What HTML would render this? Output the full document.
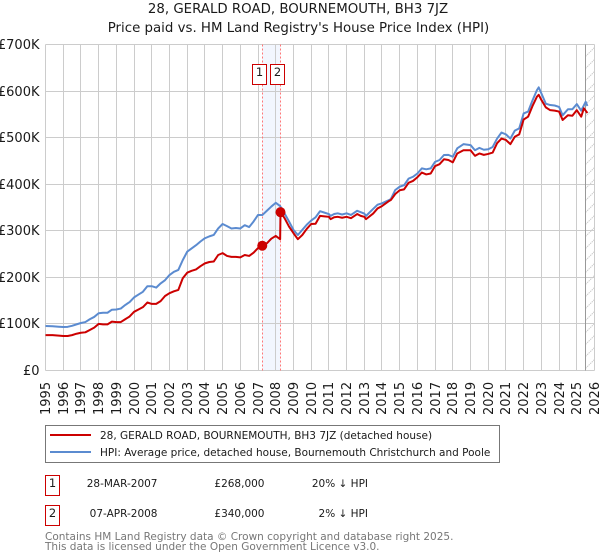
<!DOCTYPE html>
<html lang="en">
<head>
<meta charset="utf-8">
<title>28, GERALD ROAD, BOURNEMOUTH, BH3 7JZ</title>
<style>
html,body{margin:0;padding:0;background:#fff;width:600px;height:560px;overflow:hidden}
svg{display:block;font-family:"DejaVu Sans",sans-serif}
</style>
</head>
<body>
<svg id="chart" xmlns="http://www.w3.org/2000/svg" width="600" height="560" viewBox="0 0 600 560">
<defs>
<pattern id="hatch" width="12" height="12" patternUnits="userSpaceOnUse" patternTransform="translate(585.5 44.5)">
<line x1="0" y1="12" x2="12" y2="0" stroke="#cccccc" stroke-width="1" stroke-dasharray="1.5 0.7"/>
</pattern>
</defs>
<text x="298" y="13" text-anchor="middle" font-size="13.35" fill="#1a1a1a">28, GERALD ROAD, BOURNEMOUTH, BH3 7JZ</text>
<text x="298.5" y="32" text-anchor="middle" font-size="13.35" fill="#1a1a1a">Price paid vs. HM Land Registry's House Price Index (HPI)</text>
<g id="plot"></g>
<g>
<rect x="45.5" y="425.5" width="454" height="37" fill="#fff" stroke="#777"/>
<line x1="50" y1="435" x2="91" y2="435" stroke="#cc0000" stroke-width="2"/>
<text x="100" y="439" font-size="10.5" fill="#1a1a1a">28, GERALD ROAD, BOURNEMOUTH, BH3 7JZ (detached house)</text>
<line x1="50" y1="452" x2="91" y2="452" stroke="#5b8bd0" stroke-width="2"/>
<text x="100" y="456" font-size="10.5" fill="#1a1a1a">HPI: Average price, detached house, Bournemouth Christchurch and Poole</text>
</g>
<g font-size="10.5" fill="#1a1a1a">
<rect x="45.5" y="475.5" width="14" height="20" fill="#fff" stroke="#cc0000"/>
<text x="52.5" y="487" text-anchor="middle" font-size="11.5">1</text>
<text x="157.5" y="487" text-anchor="end">28-MAR-2007</text>
<text x="264.5" y="487" text-anchor="end">£268,000</text>
<text x="368" y="487" text-anchor="end">20% ↓ HPI</text>
<rect x="45.5" y="505.5" width="14" height="20" fill="#fff" stroke="#cc0000"/>
<text x="52.5" y="517" text-anchor="middle" font-size="11.5">2</text>
<text x="157.5" y="517" text-anchor="end">07-APR-2008</text>
<text x="264.5" y="517" text-anchor="end">£340,000</text>
<text x="368" y="517" text-anchor="end">2% ↓ HPI</text>
</g>
<text x="45" y="540" font-size="10.5" fill="#777">Contains HM Land Registry data © Crown copyright and database right 2025.</text>
<text x="45" y="550" font-size="10.5" fill="#777">This data is licensed under the Open Government Licence v3.0.</text>
</svg>
<script>
const yTickValues = [0, 100, 200, 300, 400, 500, 600, 700];
const yTickLabels = ['£0', '£100K', '£200K', '£300K', '£400K', '£500K', '£600K', '£700K'];
const xTickYears = [1995, 1996, 1997, 1998, 1999, 2000, 2001, 2002, 2003, 2004, 2005, 2006, 2007, 2008, 2009, 2010, 2011, 2012, 2013, 2014, 2015, 2016, 2017, 2018, 2019, 2020, 2021, 2022, 2023, 2024, 2025, 2026];
const hpiDates = [1995, 1995.4, 1995.75, 1996, 1996.25, 1996.5, 1996.75, 1997, 1997.25, 1997.5, 1997.75, 1998, 1998.25, 1998.5, 1998.75, 1999, 1999.25, 1999.5, 1999.75, 2000, 2000.25, 2000.5, 2000.75, 2001, 2001.25, 2001.5, 2001.75, 2002, 2002.25, 2002.5, 2002.75, 2003, 2003.25, 2003.5, 2003.75, 2004, 2004.25, 2004.5, 2004.75, 2005, 2005.25, 2005.5, 2005.75, 2006, 2006.25, 2006.5, 2006.75, 2007, 2007.25, 2007.5, 2007.75, 2008, 2008.25, 2008.5, 2008.75, 2009, 2009.25, 2009.5, 2009.75, 2010, 2010.25, 2010.5, 2010.75, 2011, 2011.1, 2011.3, 2011.5, 2011.75, 2012, 2012.25, 2012.6, 2012.8, 2013, 2013.1, 2013.5, 2013.75, 2014, 2014.4, 2014.5, 2014.75, 2015, 2015.25, 2015.5, 2015.75, 2016, 2016.25, 2016.5, 2016.75, 2017, 2017.25, 2017.5, 2017.75, 2018, 2018.25, 2018.6, 2019, 2019.25, 2019.5, 2019.75, 2020, 2020.25, 2020.5, 2020.75, 2021, 2021.25, 2021.5, 2021.75, 2022, 2022.25, 2022.5, 2022.75, 2022.85, 2023, 2023.25, 2023.5, 2023.75, 2024, 2024.2, 2024.5, 2024.75, 2025, 2025.25, 2025.5, 2025.6];
const hpiValues = [95.5, 95, 94, 93.4, 93.8, 96, 99, 102, 104, 110, 115, 123, 124, 124, 130.5, 131, 133, 140.6, 147, 157, 163, 169, 181, 181, 178, 187, 194, 205, 212, 216, 237, 255, 262, 269, 277, 284, 288, 291, 305, 314.6, 310, 305, 306, 305, 312, 308, 320, 334, 334, 343, 352, 360, 353, 337, 320, 302, 291, 302, 313, 322, 329, 342, 339, 336, 332, 336, 337.5, 335, 337.5, 334, 343, 340, 337, 332, 347, 356, 359, 366, 368, 387.6, 394.7, 398, 412, 416, 423, 434, 432, 434, 448, 452, 462.7, 463, 459, 477, 486, 484, 473, 478, 474, 475, 480, 498, 511, 507, 498, 515, 520, 552, 556, 580, 602, 608, 595, 573, 570, 569, 566, 548, 561, 561, 572, 558, 577, 568];
const paidDates = [1995, 1995.4, 1995.75, 1996, 1996.25, 1996.5, 1996.75, 1997, 1997.25, 1997.5, 1997.75, 1998, 1998.25, 1998.5, 1998.75, 1999, 1999.25, 1999.5, 1999.75, 2000, 2000.25, 2000.5, 2000.75, 2001, 2001.25, 2001.5, 2001.75, 2002, 2002.25, 2002.5, 2002.75, 2003, 2003.25, 2003.5, 2003.75, 2004, 2004.25, 2004.5, 2004.75, 2005, 2005.25, 2005.5, 2005.75, 2006, 2006.25, 2006.5, 2006.75, 2007, 2007.24, 2007.5, 2007.75, 2008, 2008.25, 2008.27, 2008.5, 2008.75, 2009, 2009.25, 2009.5, 2009.75, 2010, 2010.25, 2010.5, 2010.75, 2011, 2011.1, 2011.3, 2011.5, 2011.75, 2012, 2012.25, 2012.6, 2012.8, 2013, 2013.1, 2013.5, 2013.75, 2014, 2014.4, 2014.5, 2014.75, 2015, 2015.25, 2015.5, 2015.75, 2016, 2016.25, 2016.5, 2016.75, 2017, 2017.25, 2017.5, 2017.75, 2018, 2018.25, 2018.6, 2019, 2019.25, 2019.5, 2019.75, 2020, 2020.25, 2020.5, 2020.75, 2021, 2021.25, 2021.5, 2021.75, 2022, 2022.25, 2022.5, 2022.75, 2022.85, 2023, 2023.25, 2023.5, 2023.75, 2024, 2024.2, 2024.5, 2024.75, 2025, 2025.25, 2025.4, 2025.6];
const paidValues = [76, 76, 75, 74, 74, 76, 79, 81, 82, 87, 92, 100, 99, 99, 105, 104, 104, 110, 116, 126, 131, 136, 146, 143, 143, 149, 160, 166, 170, 173, 198, 210, 214, 217, 224, 230, 233, 234, 248, 252, 246, 244, 244, 243, 248, 246, 253, 263, 268, 273, 283, 289, 282, 340, 327, 309, 295, 282, 291, 304, 314.6, 315, 332, 331, 330, 325, 329, 330, 328, 330, 327, 336, 332, 330, 325, 337, 348, 353, 364, 366, 379, 387, 389, 403, 407, 415, 425, 421, 423, 439, 443, 453.5, 452, 447, 466, 473, 473, 461, 466, 463, 465, 468, 488, 498, 495, 486, 502, 507, 539, 545, 568, 588, 592, 581, 565, 559, 558, 556, 538, 548, 547, 559, 545, 563, 553];
const saleDates = [2007.24, 2008.27];
const saleValues = [268, 340];
const saleNumbers = ['1', '2'];
const hpiEndDate = 2025.5;

const NS = 'http://www.w3.org/2000/svg';
const plot = document.getElementById('plot');
const xScale = function (year) { return 45.5 + (year - 1995) * (594.5 - 45.5) / 31; };
const yScale = function (value) { return 370.5 - value * (326 / 700); };
const snap = function (v) { return Math.floor(v) + 0.5; };
function make(tag, attrs, parent) {
  const el = document.createElementNS(NS, tag);
  for (const key in attrs) el.setAttribute(key, attrs[key]);
  (parent || plot).appendChild(el);
  return el;
}
const linePath = function (dates, values) {
  return dates.map(function (d, i) {
    return (i ? 'L' : 'M') + xScale(d).toFixed(2) + ' ' + yScale(values[i]).toFixed(2);
  }).join(' ');
};

const span = make('rect', { x: xScale(saleDates[0]), y: 44.5, width: xScale(saleDates[1]) - xScale(saleDates[0]), height: 326, fill: '#f2f6fe' });



xTickYears.forEach(function (year) {
  const x = snap(xScale(year));
  const grid = make('line', { x1: x, x2: x, y1: 44.5, y2: 370.5, stroke: '#cccccc', 'stroke-width': 1 });
  
  
  const label = make('text', { transform: 'translate(' + (x + 4.5) + ' 415) rotate(-90)', 'font-size': 13, fill: '#1a1a1a' });
  label.textContent = year;
  
  
});

yTickValues.forEach(function (value, i) {
  const y = snap(yScale(value));
  const grid = make('line', { x1: 45.5, x2: 594.5, y1: y, y2: y, stroke: '#cccccc', 'stroke-width': 1 });
  
  
  const label = make('text', { x: 39.5, y: y + 4.5, 'text-anchor': 'end', 'font-size': 13, fill: '#1a1a1a' });
  label.textContent = yTickLabels[i];
  
  
});

const hatchX = snap(xScale(hpiEndDate));
const hatch = make('rect', { x: hatchX, y: 44.5, width: 594.5 - hatchX, height: 326, fill: 'url(#hatch)' });


const endLine = make('line', { x1: hatchX, x2: hatchX, y1: 44.5, y2: 370.5, stroke: '#999999', 'stroke-width': 1 });



saleDates.forEach(function (date, i) {
  const x = snap(xScale(date));
  const guide = make('line', { x1: x, x2: x, y1: 44.5, y2: 370.5, stroke: '#ff7777', 'stroke-width': 1, 'stroke-dasharray': '2 2' });
  
  
});

const hpiLine = make('path', { d: linePath(hpiDates, hpiValues), fill: 'none', stroke: '#5b8bd0', 'stroke-width': 2, 'stroke-linejoin': 'round' });


const paidLine = make('path', { d: linePath(paidDates, paidValues), fill: 'none', stroke: '#cc0000', 'stroke-width': 2, 'stroke-linejoin': 'round' });



saleDates.forEach(function (date, i) {
  const x = xScale(date);
  const y = yScale(saleValues[i]);
  const marker = make('circle', { cx: x, cy: y, r: 5, fill: '#cc0000' });
  
  
  const badgeX = snap(x) - 10;
  const badge = make('rect', { x: badgeX, y: 64.5, width: 14, height: 20, fill: '#fff', stroke: '#cc0000', 'stroke-width': 1 });
  
  
  const num = make('text', { x: badgeX + 7, y: 76, 'text-anchor': 'middle', 'font-size': 11.5, fill: '#1a1a1a' });
  num.textContent = saleNumbers[i];
  
  
});
</script>
</body>
</html>
